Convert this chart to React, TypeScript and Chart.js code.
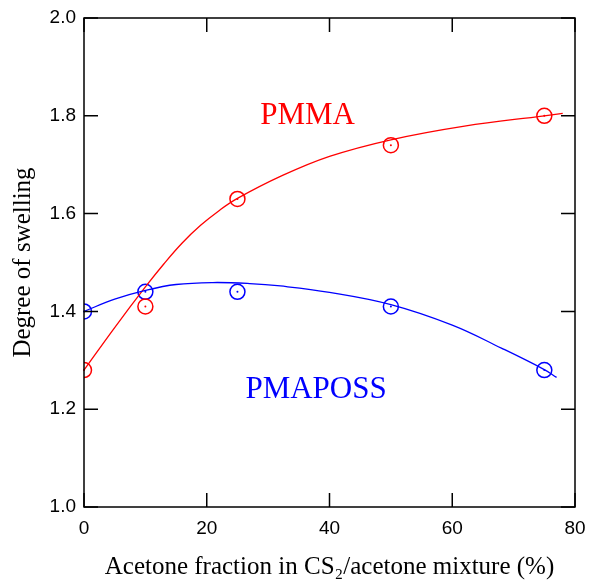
import React, { useEffect, useRef } from "react";
import { Chart, registerables } from "chart.js";

Chart.register(...registerables);

// Axis ticks
const xTicks = [0, 20, 40, 60, 80];
const yTicks = [1.0, 1.2, 1.4, 1.6, 1.8, 2.0];

// Measured points
const acetoneFraction = [0, 10, 25, 50, 75];
const pmmaSwelling = [1.28, 1.41, 1.63, 1.74, 1.8];
const pmaposSwelling = [1.4, 1.44, 1.44, 1.41, 1.28];

// Fitted curves
const pmmaFitX = [0, 5, 10, 13, 16, 19, 22, 25, 32, 40, 50, 62, 75, 78];
const pmmaFitY = [1.28, 1.367, 1.45, 1.497, 1.54, 1.576, 1.606, 1.631, 1.676, 1.717, 1.751, 1.779, 1.8, 1.805];
const pmaposFitX = [0, 5, 10, 15, 21, 27, 32, 40, 50, 60, 68, 75, 77];
const pmaposFitY = [1.4, 1.425, 1.443, 1.455, 1.459, 1.457, 1.452, 1.439, 1.414, 1.372, 1.325, 1.281, 1.265];

// Series labels
const seriesLabels = [
  { text: "PMMA", x: 28.7, y: 1.7835, color: "#ff0000" },
  { text: "PMAPOSS", x: 26.3, y: 1.223, color: "#0000ff" },
];

const SERIF = "'Liberation Serif', 'Times New Roman', Times, serif";
const SANS = "'Liberation Sans', Arial, Helvetica, sans-serif";

const framePlugin = {
  id: "frameTicks",
  afterDatasetsDraw(chart: any) {
    const { ctx, chartArea, scales } = chart;
    const { left, right, top, bottom } = chartArea;
    const x = scales.x;
    const y = scales.y;
    const L = 14;
    ctx.save();
    ctx.strokeStyle = "#000";
    ctx.lineWidth = 1.5;
    ctx.strokeRect(left, top, right - left, bottom - top);
    ctx.beginPath();
    x.ticks.forEach((_t: any, i: number) => {
      const px = x.getPixelForTick(i);
      ctx.moveTo(px, bottom);
      ctx.lineTo(px, bottom - L);
      ctx.moveTo(px, top);
      ctx.lineTo(px, top + L);
    });
    y.ticks.forEach((_t: any, i: number) => {
      const py = y.getPixelForTick(i);
      ctx.moveTo(left, py);
      ctx.lineTo(left + L, py);
      ctx.moveTo(right, py);
      ctx.lineTo(right - L, py);
    });
    ctx.stroke();
    ctx.restore();
  },
};

const dotPlugin = {
  id: "centerDots",
  afterDatasetsDraw(chart: any) {
    const { ctx } = chart;
    chart.data.datasets.forEach((ds: any, i: number) => {
      if (!ds.centerDot) return;
      const meta = chart.getDatasetMeta(i);
      ctx.save();
      ctx.fillStyle = ds.pointBorderColor;
      meta.data.forEach((pt: any) => {
        ctx.beginPath();
        ctx.arc(pt.x, pt.y, 1, 0, Math.PI * 2);
        ctx.fill();
      });
      ctx.restore();
    });
  },
};

const labelPlugin = {
  id: "seriesLabels",
  afterDatasetsDraw(chart: any) {
    const { ctx, scales } = chart;
    ctx.save();
    ctx.font = `31px ${SERIF}`;
    ctx.textAlign = "left";
    ctx.textBaseline = "alphabetic";
    seriesLabels.forEach((l) => {
      ctx.fillStyle = l.color;
      ctx.fillText(l.text, scales.x.getPixelForValue(l.x), scales.y.getPixelForValue(l.y));
    });
    ctx.restore();
  },
};

export default function App() {
  const ref = useRef<HTMLCanvasElement | null>(null);

  useEffect(() => {
    if (!ref.current) return;
    const chart = new Chart(ref.current, {
      type: "scatter",
      data: {
        datasets: [
          {
            label: "PMAPOSS fit",
            data: pmaposFitX.map((x, i) => ({ x, y: pmaposFitY[i] })),
            showLine: true,
            borderColor: "#0000ff",
            borderWidth: 1.3,
            pointRadius: 0,
            tension: 0.4,
          },
          {
            label: "PMMA fit",
            data: pmmaFitX.map((x, i) => ({ x, y: pmmaFitY[i] })),
            showLine: true,
            borderColor: "#ff0000",
            borderWidth: 1.3,
            pointRadius: 0,
            tension: 0.4,
          },
          {
            label: "PMMA",
            data: acetoneFraction.map((x, i) => ({ x, y: pmmaSwelling[i] })),
            showLine: false,
            pointRadius: 7.5,
            pointBorderWidth: 1.5,
            pointBorderColor: "#ff0000",
            pointBackgroundColor: "rgba(0,0,0,0)",
            centerDot: true,
          } as any,
          {
            label: "PMAPOSS",
            data: acetoneFraction.map((x, i) => ({ x, y: pmaposSwelling[i] })),
            showLine: false,
            pointRadius: 7.5,
            pointBorderWidth: 1.5,
            pointBorderColor: "#0000ff",
            pointBackgroundColor: "rgba(0,0,0,0)",
            centerDot: true,
          } as any,
        ],
      },
      options: {
        animation: false,
        responsive: false,
        devicePixelRatio: 1,
        layout: { padding: { left: 0, top: 18, right: 14, bottom: 0 } },
        plugins: {
          legend: { display: false },
          tooltip: { enabled: false },
        },
        scales: {
          x: {
            type: "linear",
            min: xTicks[0],
            max: xTicks[xTicks.length - 1],
            afterBuildTicks: (s: any) => {
              s.ticks = xTicks.map((v) => ({ value: v }));
            },
            afterFit: (s: any) => {
              s.height = 75;
              s.paddingLeft = 0;
              s.paddingRight = 0;
            },
            grid: { display: false, drawTicks: false },
            border: { display: false },
            ticks: {
              color: "#000",
              font: { family: SANS, size: 19 },
              padding: 10,
              maxRotation: 0,
              callback: (v: any) => String(v),
            },
            title: {
              display: true,
              text: "Acetone fraction in CS₂/acetone mixture (%)",
              color: "#000",
              font: { family: SERIF, size: 25 },
              padding: { top: 0, bottom: 0 },
            },
          },
          y: {
            type: "linear",
            min: yTicks[0],
            max: yTicks[yTicks.length - 1],
            afterBuildTicks: (s: any) => {
              s.ticks = yTicks.map((v) => ({ value: v }));
            },
            afterFit: (s: any) => {
              s.width = 84;
              s.paddingTop = 0;
              s.paddingBottom = 0;
            },
            grid: { display: false, drawTicks: false },
            border: { display: false },
            ticks: {
              color: "#000",
              font: { family: SANS, size: 19 },
              padding: 8,
              callback: (v: any) => Number(v).toFixed(1),
            },
            title: {
              display: true,
              text: "Degree of swelling",
              color: "#000",
              font: { family: SERIF, size: 25 },
              padding: { top: 8, bottom: 0 },
            },
          },
        },
      },
      plugins: [dotPlugin, labelPlugin, framePlugin],
    });
    return () => chart.destroy();
  }, []);

  return (
    <div style={{ position: "absolute", left: 0, top: 0, width: 589, height: 582, background: "#fff" }}>
      <canvas ref={ref} width={589} height={582} style={{ display: "block" }} />
    </div>
  );
}
